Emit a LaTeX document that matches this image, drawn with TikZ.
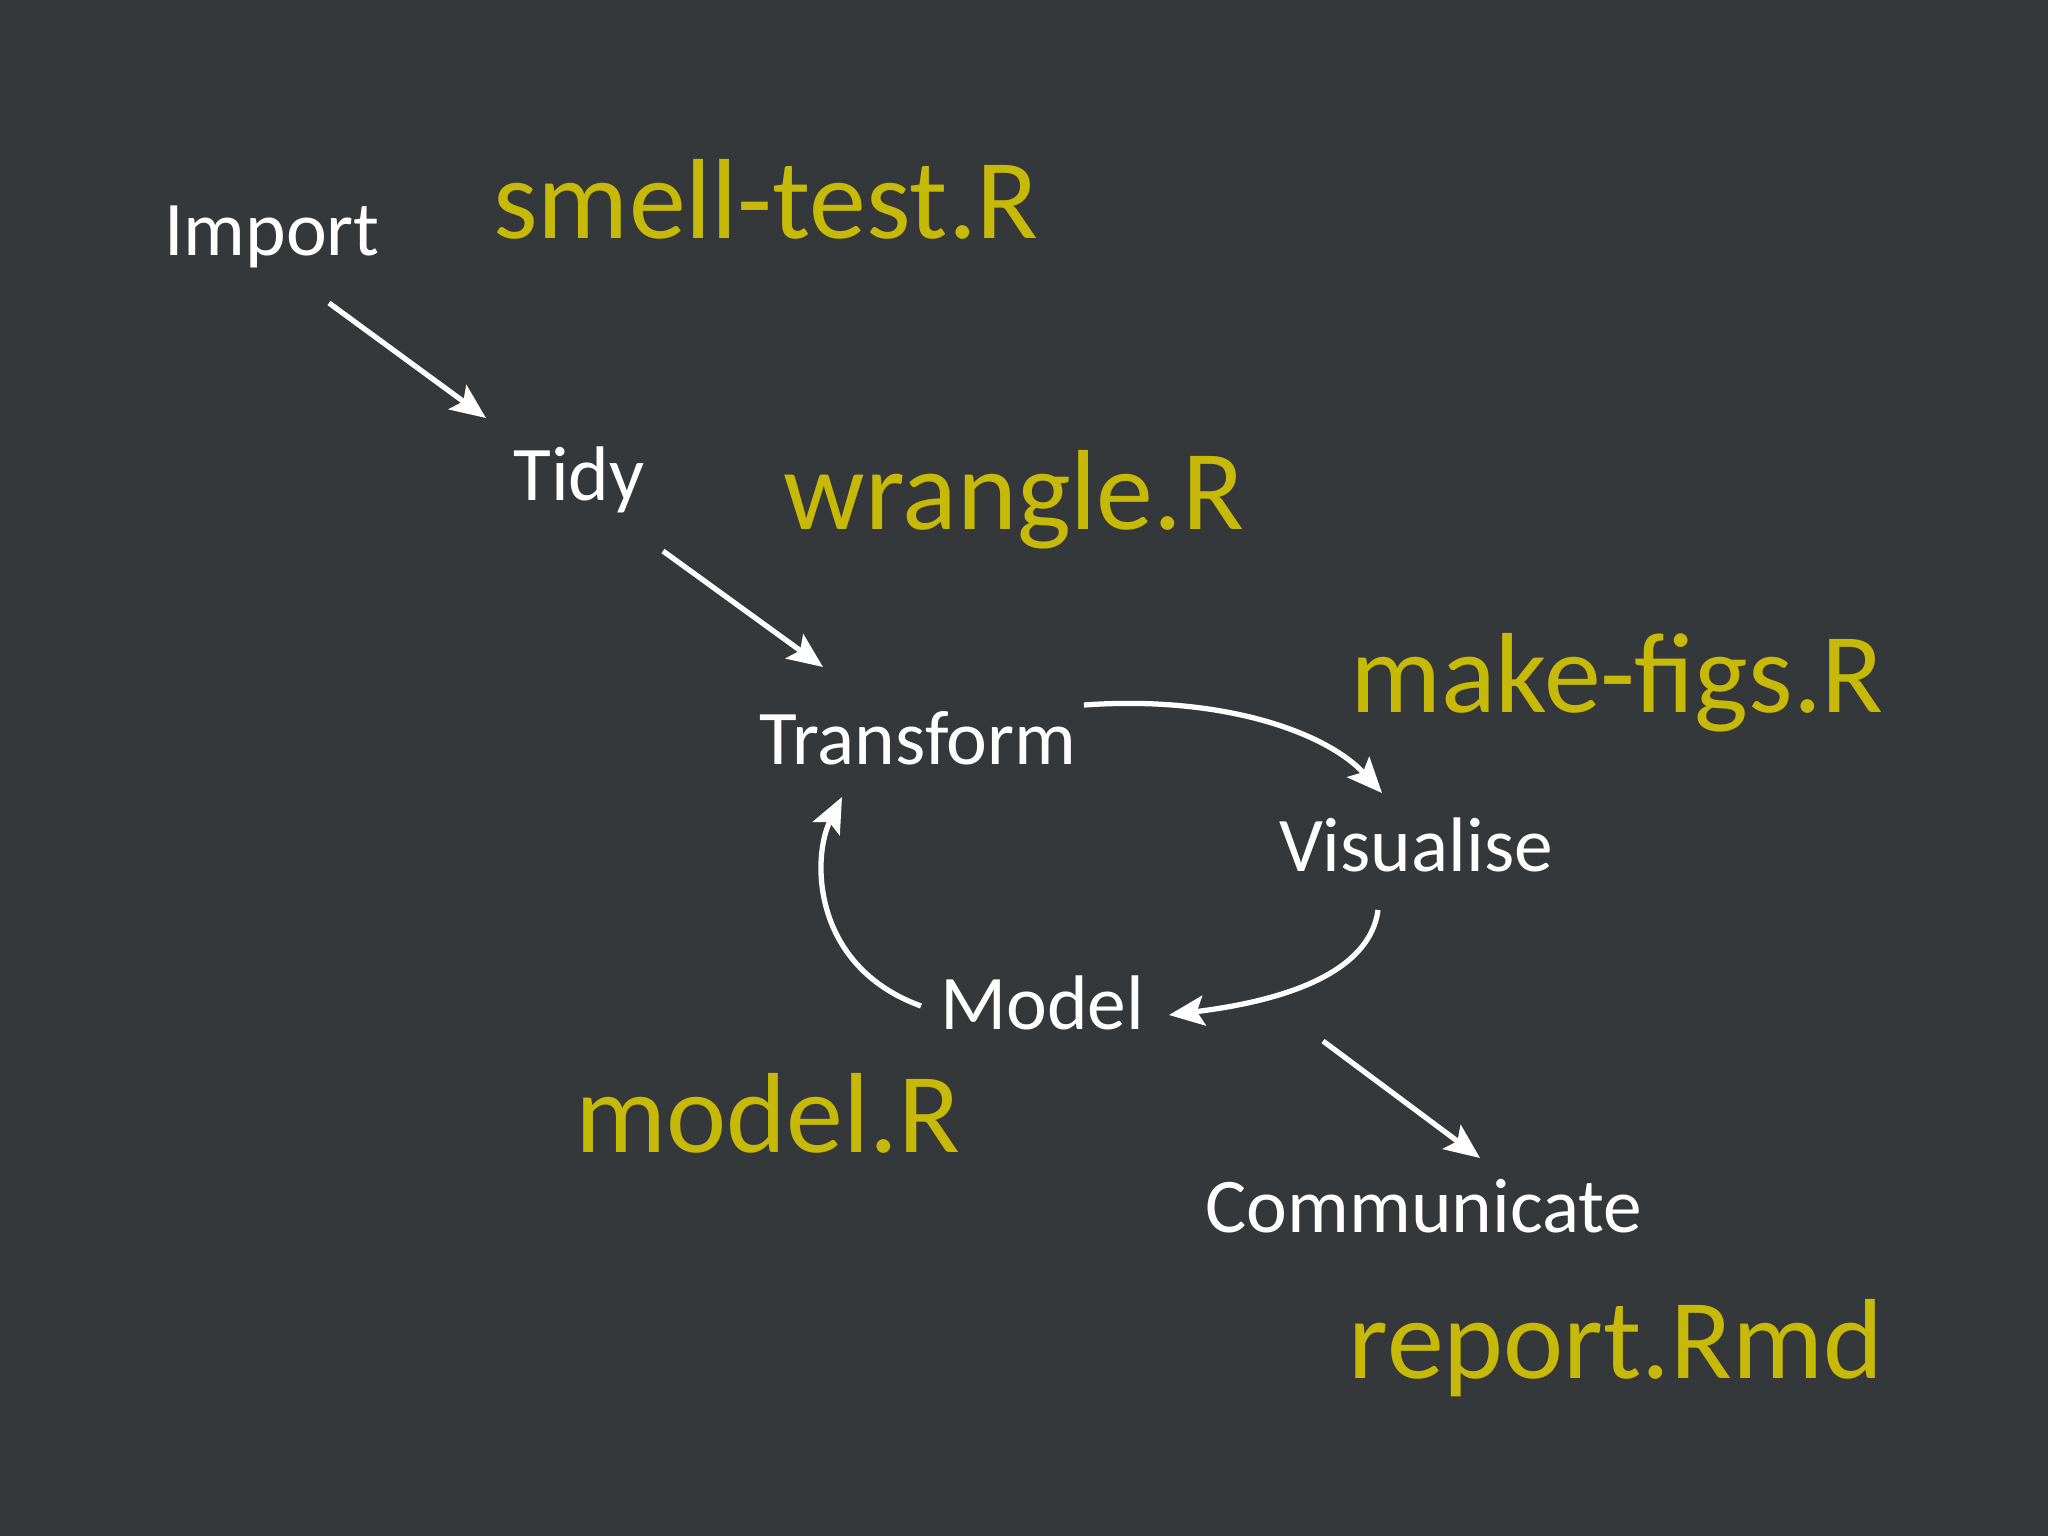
\documentclass[tikz,border=0pt]{standalone}
\usepackage{fontspec}
\setmainfont{Carlito}
\usetikzlibrary{arrows.meta}
\definecolor{bgdark}{RGB}{52,56,58}
\definecolor{rfile}{RGB}{198,185,8}
\begin{document}
\begin{tikzpicture}[x=0.01cm, y=-0.01cm,
  stage/.style={anchor=base, text=white, font=\fontsize{22}{26}\selectfont, inner sep=0pt},
  script/.style={anchor=base, text=rfile, font=\fontsize{32.4}{38}\selectfont, inner sep=0pt},
  flow/.style={draw=white, line width=1.5pt, -{Stealth[length=10pt, width=8.5pt, inset=2pt]}}]
\fill [bgdark] (0,0) rectangle (2048,1536);
% the stages
\node [stage] (import) at (272,255) {Import};
\node [stage] (tidy) at (579,500) {Tidy};
\node [stage] (transform) at (918,764) {Transform};
\node [stage] (visualise) at (1416,871) {Visualise};
\node [stage] (model) at (1042,1029) {Model};
\node [stage] (communicate) at (1424,1232) {Communicate};
% the scripts
\node [script] (smell) at (766,238) {smell-test.R};
\node [script] (wrangle) at (1014,529) {wrangle.R};
\node [script] (makefigs) at (1617,712) {make-figs.R};
\node [script] (modelR) at (768,1152) {model.R};
\node [script] (report) at (1616,1378) {report.Rmd};
% arrows
\draw [flow] ([shift={(57,48)}]import.base) -- ([shift={(-93,-82)}]tidy.base);
\draw [flow] ([shift={(84,51)}]tidy.base) -- ([shift={(-95,-97)}]transform.base);
\draw [flow] ([shift={(166,-59)}]transform.base) .. controls +(140,-10) and +(-55,-60) .. ([shift={(-34,-78)}]visualise.base);
\draw [flow] ([shift={(-38,39)}]visualise.base) .. controls +(-10,75) and +(80,-10) .. ([shift={(127,-14)}]model.base);
\draw [flow] ([shift={(-121,-23)}]model.base) .. controls +(-110,-40) and +(-30,60) .. ([shift={(-76,33)}]transform.base);
\draw [flow] ([shift={(281,12)}]model.base) -- ([shift={(56,-74)}]communicate.base);
\end{tikzpicture}
\end{document}
